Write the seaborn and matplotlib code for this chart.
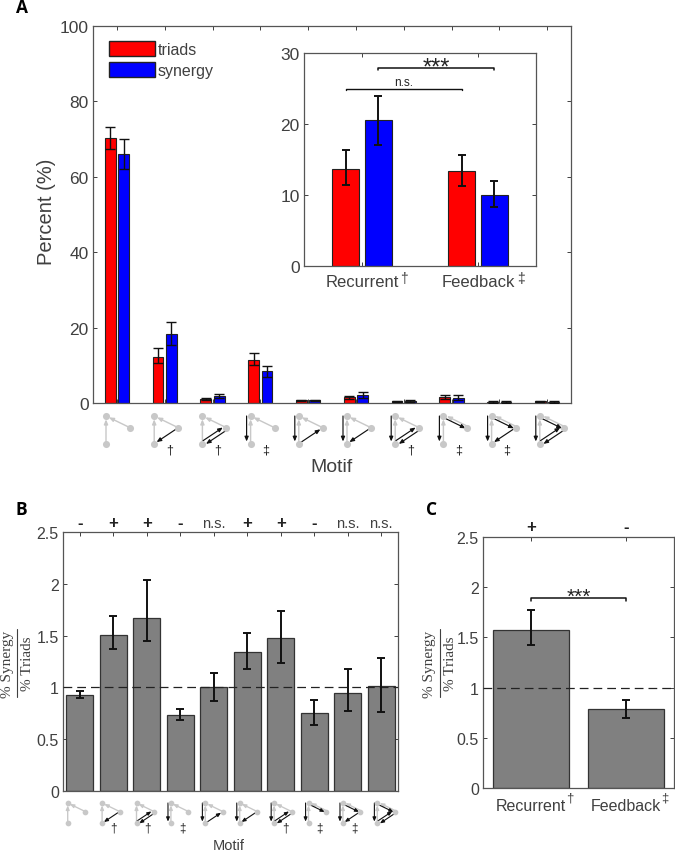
import numpy as np
import pandas as pd
import seaborn as sns
import matplotlib
matplotlib.use("Agg")
import matplotlib.pyplot as plt
from matplotlib.patches import Patch

W, H = 675, 854
INK = "#404040"
motifs = [f"M{i}" for i in range(1, 11)]
triads = [70.2, 12.3, 1.0, 11.5, 0.7, 1.5, 0.4, 1.6, 0.3, 0.4]
triads_lo = [67.3, 10.5, 0.7, 10.0, 0.5, 1.1, 0.2, 1.0, 0.1, 0.2]
triads_hi = [73.2, 14.7, 1.3, 13.2, 0.9, 1.9, 0.6, 2.2, 0.5, 0.6]
synergy = [66.0, 18.2, 1.8, 8.4, 0.7, 2.1, 0.5, 1.3, 0.3, 0.3]
synergy_lo = [62.0, 15.5, 1.2, 7.0, 0.5, 1.4, 0.3, 0.7, 0.1, 0.1]
synergy_hi = [70.0, 21.5, 2.5, 9.8, 0.9, 3.0, 0.7, 2.2, 0.5, 0.5]

inset_groups = ["Recurrent", "Feedback"]
inset_triads = [13.7, 13.4]
inset_triads_lo = [11.4, 11.3]
inset_triads_hi = [16.3, 15.6]
inset_synergy = [20.5, 10.0]
inset_synergy_lo = [17.1, 8.3]
inset_synergy_hi = [23.9, 12.0]

ratio = [0.93, 1.51, 1.67, 0.735, 1.0, 1.34, 1.48, 0.75, 0.95, 1.015]
ratio_lo = [0.90, 1.37, 1.445, 0.69, 0.865, 1.175, 1.24, 0.635, 0.77, 0.76]
ratio_hi = [0.965, 1.69, 2.04, 0.79, 1.14, 1.525, 1.74, 0.88, 1.175, 1.28]
ratio_marks = ["-", "+", "+", "-", "n.s.", "+", "+", "-", "n.s.", "n.s."]

class_ratio = [1.57, 0.785]
class_lo = [1.42, 0.70]
class_hi = [1.77, 0.875]
class_marks = ["+", "-"]

# motif edges: AC = top to bottom, AB = top to right, BC / CB = right to bottom
motif_edges = [[], ["BC"], ["BC", "CB"], ["AC"], ["AC", "CB"], ["AC", "BC"],
               ["AC", "BC", "CB"], ["AC", "AB"], ["AC", "AB", "BC"],
               ["AC", "AB", "BC", "CB"]]
motif_symbols = ["", "†", "†", "‡", "", "", "†", "‡", "‡", ""]

sns.set_theme(style="white")
plt.rcParams["font.family"] = ["Liberation Sans", "DejaVu Sans"]
fig = plt.figure(figsize=(W / 100, H / 100), dpi=100, facecolor="white")


def px_axes(l, t, r, b, **kw):
    return fig.add_axes([l / W, 1 - b / H, (r - l) / W, (b - t) / H], **kw)


def style(ax, size, ylim, yticks, ylabels):
    ax.set_ylim(*ylim)
    ax.set_yticks(yticks)
    ax.set_yticklabels(ylabels)
    ax.set_xlabel("")
    ax.set_ylabel("")
    ax.tick_params(direction="in", length=3, width=0.7, top=True, right=True,
                   bottom=True, left=True, labelsize=size, labelcolor=INK,
                   color=INK, pad=3)
    for s in ax.spines.values():
        s.set_visible(True)
        s.set_color("#555555")
        s.set_linewidth(0.9)


def bar_centers(ax):
    out = []
    for c in ax.containers:
        out.append([b.get_x() + b.get_width() / 2 for b in c])
    return out


def errs(ax, xs, lo, hi, cap, lw):
    ax.vlines(xs, lo, hi, color="#111111", lw=lw, zorder=5)
    ax.plot(xs, lo, ls="none", marker="_", ms=cap, mew=lw, color="#111111", zorder=5)
    ax.plot(xs, hi, ls="none", marker="_", ms=cap, mew=lw, color="#111111", zorder=5)


def grouped(ax, cats, a, b):
    df = pd.DataFrame({"cat": cats * 2, "val": a + b,
                       "kind": ["triads"] * len(cats) + ["synergy"] * len(cats)})
    sns.barplot(data=df, x="cat", y="val", hue="kind", hue_order=["triads", "synergy"],
                palette=["#ff0000", "#0000ff"], saturation=1, width=0.56, gap=0.18,
                errorbar=None, edgecolor="#222222", linewidth=0.8, legend=False, ax=ax)
    ax.set_xlim(-0.5, len(cats) - 0.5)


# Panel A
axA = px_axes(93, 27, 571, 404)
grouped(axA, motifs, triads, synergy)
style(axA, 12.5, (0, 100), [0, 20, 40, 60, 80, 100], ["0", "20", "40", "60", "80", "100"])
axA.set_xticks(range(10))
axA.set_xticklabels([])
c = bar_centers(axA)
errs(axA, c[0], triads_lo, triads_hi, 7, 1.0)
errs(axA, c[1], synergy_lo, synergy_hi, 7, 1.0)
axA.legend(handles=[Patch(fc="#ff0000", ec="#222222", label="triads"),
                    Patch(fc="#0000ff", ec="#222222", label="synergy")],
           loc="upper left", bbox_to_anchor=(109 / W, 1 - 42 / H),
           bbox_transform=fig.transFigure, frameon=False, fontsize=11.5,
           labelcolor=INK, handlelength=2.85, handleheight=1.05, labelspacing=0.34,
           handletextpad=0.2, borderpad=0, borderaxespad=0)

# Inset
axI = px_axes(304, 54, 536, 267)
grouped(axI, inset_groups, inset_triads, inset_synergy)
style(axI, 12.5, (0, 30), [0, 10, 20, 30], ["0", "10", "20", "30"])
axI.set_xticks([0, 1])
axI.set_xticklabels(inset_groups)
axI.tick_params(axis="x", labelsize=12, pad=6)
c = bar_centers(axI)
errs(axI, c[0], inset_triads_lo, inset_triads_hi, 5.5, 1.4)
errs(axI, c[1], inset_synergy_lo, inset_synergy_hi, 5.5, 1.4)


def bracket(ax, x0, x1, y, drop, label, fs, off, lw=1.1):
    ax.plot([x0, x0, x1, x1], [y - drop, y, y, y - drop], color="#111111", lw=lw, zorder=6)
    ax.text((x0 + x1) / 2, y + off, label, ha="center", va="center", fontsize=fs,
            color="#222222", zorder=6)


bracket(axI, c[1][0], c[1][1], 27.9, 0.25, "***", 17, 0.1)
bracket(axI, c[0][0], c[0][1], 25.0, 0.25, "n.s.", 8.5, 0.85, lw=1.0)


def gray_panel(ax, cats, vals, lo, hi, size):
    df = pd.DataFrame({"cat": cats, "val": vals})
    sns.barplot(data=df, x="cat", y="val", color="#808080", saturation=1, width=0.8,
                errorbar=None, edgecolor="#333333", linewidth=0.9, ax=ax)
    ax.set_xlim(-0.5, len(cats) - 0.5)
    style(ax, size, (0, 2.5), [0, 0.5, 1, 1.5, 2, 2.5], ["0", "0.5", "1", "1.5", "2", "2.5"])
    ax.axhline(1, color="#222222", lw=0.9, dashes=(7, 4), zorder=4)
    errs(ax, range(len(cats)), lo, hi, 5.5, 1.4)


# Panel B
axB = px_axes(63, 533, 398, 792)
gray_panel(axB, motifs, ratio, ratio_lo, ratio_hi, 11.5)
axB.set_xticks(range(10))
axB.set_xticklabels([])

# Panel C
axC = px_axes(483, 538, 674, 789)
gray_panel(axC, inset_groups, class_ratio, class_lo, class_hi, 11.5)
axC.set_xticks([0, 1])
axC.set_xticklabels(inset_groups)
axC.tick_params(axis="x", labelsize=11.5, pad=7)
bracket(axC, 0, 1, 1.897, 0.03, "***", 15, 0.01)

# Overlay in pixel space for marks around the axes
ov = fig.add_axes([0, 0, 1, 1], zorder=20)
ov.set_xlim(0, W)
ov.set_ylim(H, 0)
ov.axis("off")


def px_of(ax, x):
    return ax.transData.transform((x, 0))[0]


def arrow(p, q, color, lw, head):
    ov.annotate("", xy=q, xytext=p, zorder=3,
                arrowprops=dict(arrowstyle=f"-|>,head_length={head},head_width={head * 0.42}",
                                mutation_scale=8, color=color, lw=lw, shrinkA=0, shrinkB=0))


GRAY, BLACK = "#c8c8c8", "#111111"


def draw_motif(x, y, edges, sym, s, lw, head, ms, fs):
    A = np.array([x, y])
    B = A + np.array([24, 11.7]) * s
    C = A + np.array([0, 27.7]) * s

    def seg(P, Q, off=(0, 0), a=0.1, b=0.1):
        o = np.array(off) * s
        return tuple(P + (Q - P) * a + o), tuple(Q - (Q - P) * b + o)

    arrow(*seg(B, A, (0.6, -1.2) if "AB" in edges else (0, 0), 0.05, 0.12), GRAY, lw * 1.2, head)
    arrow(*seg(C, A, (0, 0), 0.05, 0.12), GRAY, lw * 1.2, head)
    if "AC" in edges:
        arrow(*seg(A, C, (-4, 0), 0.0, 0.08), BLACK, lw, head)
    if "AB" in edges:
        arrow(*seg(A, B, (-0.6, 1.2), 0.12, 0.05), BLACK, lw, head)
    both = "BC" in edges and "CB" in edges
    if "BC" in edges:
        arrow(*seg(B, C, (1.2, 1.8) if both else (0, 0), 0.08, 0.1), BLACK, lw, head)
    if "CB" in edges:
        arrow(*seg(C, B, (-1.2, -1.8) if both else (0, 0), 0.08, 0.1), BLACK, lw, head)
    ov.scatter([A[0], B[0], C[0]], [A[1], B[1], C[1]], s=ms, color=GRAY, lw=0, zorder=4)
    if sym:
        ov.text(A[0] + 15.5 * s, C[1] + 6 * s, sym, ha="center", va="center",
                fontsize=fs, color="#222222")


for i in range(10):
    draw_motif(106 + 48.2 * i, 417, motif_edges[i], motif_symbols[i], 1.0, 0.85, 0.34, 26, 9)
    draw_motif(67.7 + 34.4 * i, 804, motif_edges[i], motif_symbols[i], 0.73, 0.8, 0.3, 17, 8.5)
    ov.text(px_of(axB, i), 524, ratio_marks[i], ha="center", va="center",
            fontsize=10.5 if ratio_marks[i] == "n.s." else 12,
            color="#222222" if ratio_marks[i] != "n.s." else INK,
            fontweight="bold" if ratio_marks[i] != "n.s." else "normal")

for i in range(2):
    ov.text(px_of(axC, i), 528, class_marks[i], ha="center", va="center", fontsize=12,
            color="#222222", fontweight="bold")

ov.text(404, 279, "†", ha="center", va="center", fontsize=10, color=INK)
ov.text(521, 279, "‡", ha="center", va="center", fontsize=10, color=INK)
ov.text(570, 799, "†", ha="center", va="center", fontsize=9.5, color=INK)
ov.text(665, 799, "‡", ha="center", va="center", fontsize=9.5, color=INK)

ov.text(46, 212, "Percent (%)", rotation=90, ha="center", va="center", fontsize=14.5, color=INK)
ov.text(332, 468, "Motif", ha="center", va="center", fontsize=14, color=INK)
ov.text(229, 846, "Motif", ha="center", va="center", fontsize=10.5, color=INK)

for x_top, x_line, x_bot in [(8, 17, 27.5), (430, 440, 451)]:
    ov.text(x_top, 664, "% Synergy", rotation=90, ha="center", va="center",
            fontsize=11, family="Liberation Serif", color=INK)
    ov.plot([x_line, x_line], [630, 698], color=INK, lw=0.8)
    ov.text(x_bot, 664, "% Triads", rotation=90, ha="center", va="center",
            fontsize=11, family="Liberation Serif", color=INK)

for t, x, y in [("A", 22, 8), ("B", 21, 510), ("C", 432, 510)]:
    ov.text(x, y, t, ha="center", va="center", fontsize=12.5, fontweight="bold",
            family="Open Sans", color="black")

fig.savefig("out.png", dpi=100)
